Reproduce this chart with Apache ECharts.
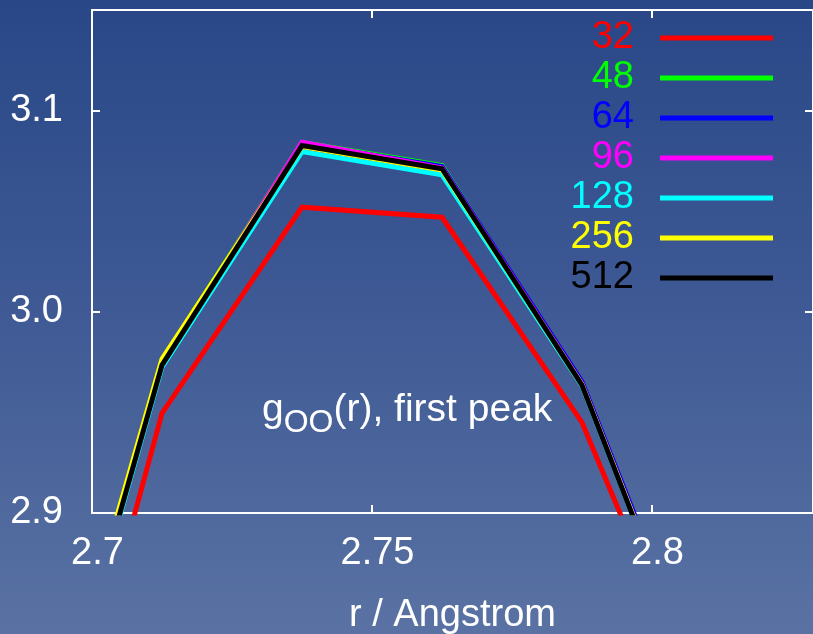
<!DOCTYPE html>
<html>
<head>
<meta charset="utf-8">
<script src="https://cdn.jsdelivr.net/npm/echarts@6/dist/echarts.min.js"></script>
<style>
  html, body { margin: 0; padding: 0; }
  #chart { width: 813px; height: 634px; }
</style>
</head>
<body>
<div id="chart"></div>
<script>
// Radial positions (Angstrom) of the sampled g_OO(r) points around the first peak
const rValues = [2.6875, 2.7125, 2.7375, 2.7625, 2.7875, 2.8125];

// g_OO(r) for each system size
const g32  = [2.693, 2.9496, 3.0520, 3.0470, 2.9450, 2.779];
const g48  = [2.733, 2.9755, 3.0842, 3.0727, 2.9642, 2.787];
const g64  = [2.730, 2.9740, 3.0836, 3.0722, 2.9652, 2.789];
const g96  = [2.731, 2.9745, 3.0843, 3.0715, 2.9640, 2.786];
const g128 = [2.727, 2.9725, 3.0796, 3.0681, 2.9632, 2.785];
const g256 = [2.734, 2.9765, 3.0822, 3.0705, 2.9638, 2.786];
const g512 = [2.7285, 2.9735, 3.0826, 3.0711, 2.9635, 2.7846];

const sizeNames  = ['32', '48', '64', '96', '128', '256', '512'];
const sizeValues = [g32, g48, g64, g96, g128, g256, g512];
const sizeColors = ['#ff0000', '#00ff00', '#0000ff', '#ff00ff', '#00ffff', '#ffff00', '#000000'];

// Axis ranges and tick labels
const xTickLabels = ['2.7', '2.75', '2.8'];
const yTickLabels = ['2.9', '3.0', '3.1'];
const xRange = [2.7, 2.82875];
const yRange = [2.9, 3.15];

const FONT = 'Liberation Sans, Arial, Helvetica, sans-serif';
const WHITE = '#ffffff';

const chart = echarts.init(document.getElementById('chart'), null, { renderer: 'canvas' });

const series = sizeNames.map((name, i) => ({
  name: name,
  type: 'line',
  data: rValues.map((r, k) => [r, sizeValues[i][k]]),
  symbol: 'none',
  clip: true,
  color: sizeColors[i],
  lineStyle: { color: sizeColors[i], width: 5, join: 'miter' },
  z: 2 + i
}));

function fmtX(v) {
  const s = xTickLabels.find(t => Math.abs(parseFloat(t) - v) < 1e-6);
  return s !== undefined ? s : '';
}
function fmtY(v) {
  const s = yTickLabels.find(t => Math.abs(parseFloat(t) - v) < 1e-6);
  return s !== undefined ? s : '';
}

const frameAxisCommon = {
  type: 'value',
  axisLine: { show: true, onZero: false, lineStyle: { color: WHITE, width: 2 } },
  axisTick: { show: true, inside: true, length: 8, lineStyle: { color: WHITE, width: 2 } },
  splitLine: { show: false }
};

const option = {
  animation: false,
  backgroundColor: {
    type: 'linear', x: 0, y: 0, x2: 0, y2: 1,
    colorStops: [
      { offset: 0, color: '#294787' },
      { offset: 0.5, color: '#3f5a95' },
      { offset: 1, color: '#5a72a3' }
    ]
  },
  grid: { left: 92, top: 10, right: 0, bottom: 121, containLabel: false, outerBoundsMode: 'none' },
  xAxis: [
    Object.assign({}, frameAxisCommon, {
      position: 'bottom',
      min: xRange[0], max: xRange[1], interval: 0.05,
      axisLabel: {
        show: true, color: WHITE, fontSize: 38, fontFamily: FONT,
        margin: 22, padding: [0, 0, 0, 11],
        showMaxLabel: false, formatter: fmtX
      },
      name: 'r / Angstrom',
      nameLocation: 'middle',
      nameGap: 84,
      nameTextStyle: { color: WHITE, fontSize: 38, fontFamily: FONT }
    }),
    Object.assign({}, frameAxisCommon, {
      position: 'top',
      min: xRange[0], max: xRange[1], interval: 0.05,
      axisLabel: { show: false }
    })
  ],
  yAxis: [
    Object.assign({}, frameAxisCommon, {
      position: 'left',
      min: yRange[0], max: yRange[1], interval: 0.1,
      axisLabel: {
        show: true, color: WHITE, fontSize: 38, fontFamily: FONT,
        margin: 29, showMaxLabel: false, formatter: fmtY
      }
    }),
    Object.assign({}, frameAxisCommon, {
      position: 'right',
      min: yRange[0], max: yRange[1], interval: 0.1,
      axisLabel: { show: false }
    })
  ],
  legend: {
    orient: 'vertical',
    align: 'right',
    right: 40,
    top: 19,
    padding: 0,
    itemGap: 2,
    icon: 'rect',
    itemWidth: 113,
    itemHeight: 5,
    selectedMode: false,
    textStyle: { fontSize: 38, fontFamily: FONT, lineHeight: 38, padding: [0, 21, 0, 0] },
    data: sizeNames.map((n, i) => ({ name: n, textStyle: { color: sizeColors[i] } }))
  },
  graphic: [{
    type: 'text',
    left: 262,
    top: 391,
    style: {
      text: '{m|g}{s|OO}{m|(r), first peak}',
      fill: WHITE,
      rich: {
        m: { fontSize: 39, fontFamily: FONT, fill: WHITE, lineHeight: 58, verticalAlign: 'middle' },
        s: { fontSize: 32, fontFamily: FONT, fill: WHITE, lineHeight: 32, verticalAlign: 'bottom' }
      }
    }
  }],
  series: series
};

chart.setOption(option);
</script>
</body>
</html>
